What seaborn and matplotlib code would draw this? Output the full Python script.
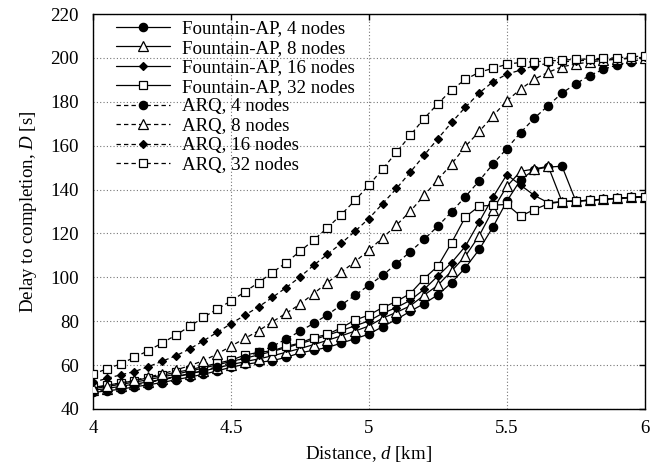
import matplotlib
matplotlib.use("Agg")
import matplotlib.pyplot as plt
import seaborn as sns
import pandas as pd

# ---------------- data ----------------
d = [4.00, 4.05, 4.10, 4.15, 4.20, 4.25, 4.30, 4.35, 4.40, 4.45,
     4.50, 4.55, 4.60, 4.65, 4.70, 4.75, 4.80, 4.85, 4.90, 4.95,
     5.00, 5.05, 5.10, 5.15, 5.20, 5.25, 5.30, 5.35, 5.40, 5.45,
     5.50, 5.55, 5.60, 5.65, 5.70, 5.75, 5.80, 5.85, 5.90, 5.95, 6.00]

fountain_4 = [47.5, 48.2, 49.0, 50.0, 51.0, 52.0, 53.3, 54.5, 55.8, 57.3,
              59.0, 60.3, 61.2, 62.0, 63.5, 65.5, 66.8, 68.0, 70.0, 72.0,
              74.1, 77.5, 80.8, 84.5, 88.0, 92.0, 97.6, 104.4, 112.7, 123.0,
              134.7, 144.5, 149.1, 150.3, 150.6, 134.8, 135.1, 135.6, 136.0, 136.4, 136.8]
fountain_8 = [48.5, 49.3, 50.3, 51.3, 52.3, 53.5, 54.8, 56.0, 57.3, 58.7,
              60.2, 61.5, 62.8, 64.2, 65.8, 67.5, 69.3, 71.3, 73.3, 75.5,
              77.8, 81.4, 84.0, 87.0, 91.8, 96.4, 102.9, 109.7, 119.0, 130.9,
              141.5, 148.3, 149.4, 150.6, 134.5, 134.8, 135.1, 135.6, 136.0, 136.4, 136.8]
fountain_16 = [49.2, 50.2, 51.2, 52.2, 53.3, 54.6, 55.8, 57.2, 58.6, 60.1,
               61.6, 63.1, 64.6, 66.2, 67.9, 69.7, 71.6, 73.6, 75.7, 77.9,
               80.1, 83.6, 86.2, 89.5, 94.5, 100.6, 106.7, 114.2, 125.3, 136.6,
               146.8, 142.0, 137.3, 134.0, 134.5, 134.8, 135.1, 135.6, 136.0, 136.4, 136.8]
fountain_32 = [49.8, 50.8, 51.8, 52.8, 54.2, 55.3, 56.7, 57.8, 59.3, 60.8,
               62.2, 64.5, 65.8, 66.5, 68.5, 70.0, 72.5, 74.0, 77.0, 80.5,
               82.8, 86.2, 89.0, 92.6, 99.4, 105.1, 115.8, 127.6, 132.4, 132.9,
               133.2, 127.9, 130.9, 133.5, 134.5, 134.8, 135.1, 135.6, 136.0, 136.4, 136.8]
arq_4 = [48.0, 48.8, 49.8, 50.8, 52.0, 53.2, 54.5, 56.0, 57.5, 59.2,
         61.0, 63.3, 65.8, 68.5, 71.8, 75.4, 79.0, 82.9, 87.4, 91.8,
         96.4, 100.9, 106.2, 111.7, 117.3, 123.3, 129.9, 136.8, 144.0, 151.7,
         158.7, 166.0, 172.6, 178.3, 184.0, 188.2, 192.0, 194.8, 196.8, 198.3, 199.8]
arq_8 = [49.5, 50.6, 51.8, 53.1, 54.5, 56.0, 57.7, 59.7, 62.0, 65.0,
         68.6, 72.1, 75.6, 79.7, 83.6, 87.7, 92.6, 97.6, 102.4, 107.1,
         112.4, 118.0, 123.8, 130.1, 137.3, 144.5, 151.7, 159.7, 166.5, 173.6,
         180.5, 185.8, 190.3, 193.5, 196.0, 197.2, 198.2, 198.9, 199.4, 199.8, 200.2]
arq_16 = [52.1, 53.9, 55.5, 57.0, 59.2, 61.7, 64.2, 67.3, 71.0, 74.9,
          78.8, 82.7, 86.5, 90.8, 95.3, 100.1, 105.5, 110.5, 115.5, 121.0,
          126.8, 133.6, 140.5, 147.9, 155.6, 163.2, 170.6, 177.6, 184.0, 189.2,
          192.6, 194.5, 196.5, 197.5, 198.2, 198.7, 199.0, 199.4, 199.7, 200.0, 200.3]
arq_32 = [55.9, 58.2, 60.5, 63.5, 66.5, 70.0, 73.6, 77.6, 81.7, 85.5,
          89.2, 93.3, 97.6, 102.1, 106.7, 111.8, 117.0, 122.6, 128.6, 135.1,
          142.0, 149.4, 157.0, 164.7, 172.4, 179.1, 185.5, 190.2, 193.5, 195.3,
          197.1, 198.0, 198.3, 198.6, 199.0, 199.4, 199.5, 199.9, 200.1, 200.6, 200.9]

labels = ["Fountain-AP, 4 nodes", "Fountain-AP, 8 nodes",
          "Fountain-AP, 16 nodes", "Fountain-AP, 32 nodes",
          "ARQ, 4 nodes", "ARQ, 8 nodes", "ARQ, 16 nodes", "ARQ, 32 nodes"]
series = [fountain_4, fountain_8, fountain_16, fountain_32,
          arq_4, arq_8, arq_16, arq_32]
x_ticks = [4, 4.5, 5, 5.5, 6]
x_tick_labels = ["4", "4.5", "5", "5.5", "6"]
y_ticks = [40, 60, 80, 100, 120, 140, 160, 180, 200, 220]

# ---------------- style ----------------
sns.set_theme(style="white")
plt.rcParams["font.family"] = ["Liberation Serif", "DejaVu Serif"]
plt.rcParams["mathtext.fontset"] = "custom"
plt.rcParams["mathtext.rm"] = "Liberation Serif"
plt.rcParams["mathtext.it"] = "Liberation Serif:italic"

FS = 13.6
markers = ["o", "^", "D", "s", "o", "^", "D", "s"]
msizes = [6.0, 6.5, 4.0, 6.0, 6.0, 6.5, 4.0, 6.0]
faces = ["black", "white", "black", "white", "black", "white", "black", "white"]
lstyles = ["-"] * 4 + [(0, (3.5, 2.5))] * 4

fig = plt.figure(figsize=(6.5, 4.7), dpi=100)
ax = fig.add_axes([0.143, 0.130, 0.849, 0.840])

for lab, vals, m, ms, fc, ls in zip(labels, series, markers, msizes, faces, lstyles):
    df = pd.DataFrame({"d": d, "D": vals})
    sns.lineplot(data=df, x="d", y="D", ax=ax, color="black", linewidth=0.9,
                 linestyle=ls, marker=m, markersize=ms, markerfacecolor=fc,
                 markeredgecolor="black", markeredgewidth=0.9, label=lab,
                 zorder=3)

ax.set_xlim(4, 6)
ax.set_ylim(40, 220)
ax.set_xticks(x_ticks)
ax.set_xticklabels(x_tick_labels)
ax.set_yticks(y_ticks)
ax.grid(True, color="#777777", linestyle=(0, (1, 2)), linewidth=0.8, zorder=0)
ax.set_axisbelow(True)
for s in ax.spines.values():
    s.set_color("black")
    s.set_linewidth(1.0)
ax.tick_params(direction="in", top=True, right=True, length=4, width=1,
               labelsize=FS, colors="black")
ax.tick_params(axis="x", pad=8)
ax.tick_params(axis="y", pad=10)
ax.set_xlabel("Distance, $d$ [km]", fontsize=FS, color="black", labelpad=5)
ax.set_ylabel("Delay to completion, $D$ [s]", fontsize=FS, color="black", labelpad=8)

leg = ax.legend(loc="upper left", bbox_to_anchor=(0.042, 0.985), frameon=False,
                fontsize=FS, handlelength=2.85, handletextpad=0.65,
                labelspacing=0.12, borderpad=0, borderaxespad=0)
for t in leg.get_texts():
    t.set_color("black")

fig.savefig("out.png", dpi=100)
